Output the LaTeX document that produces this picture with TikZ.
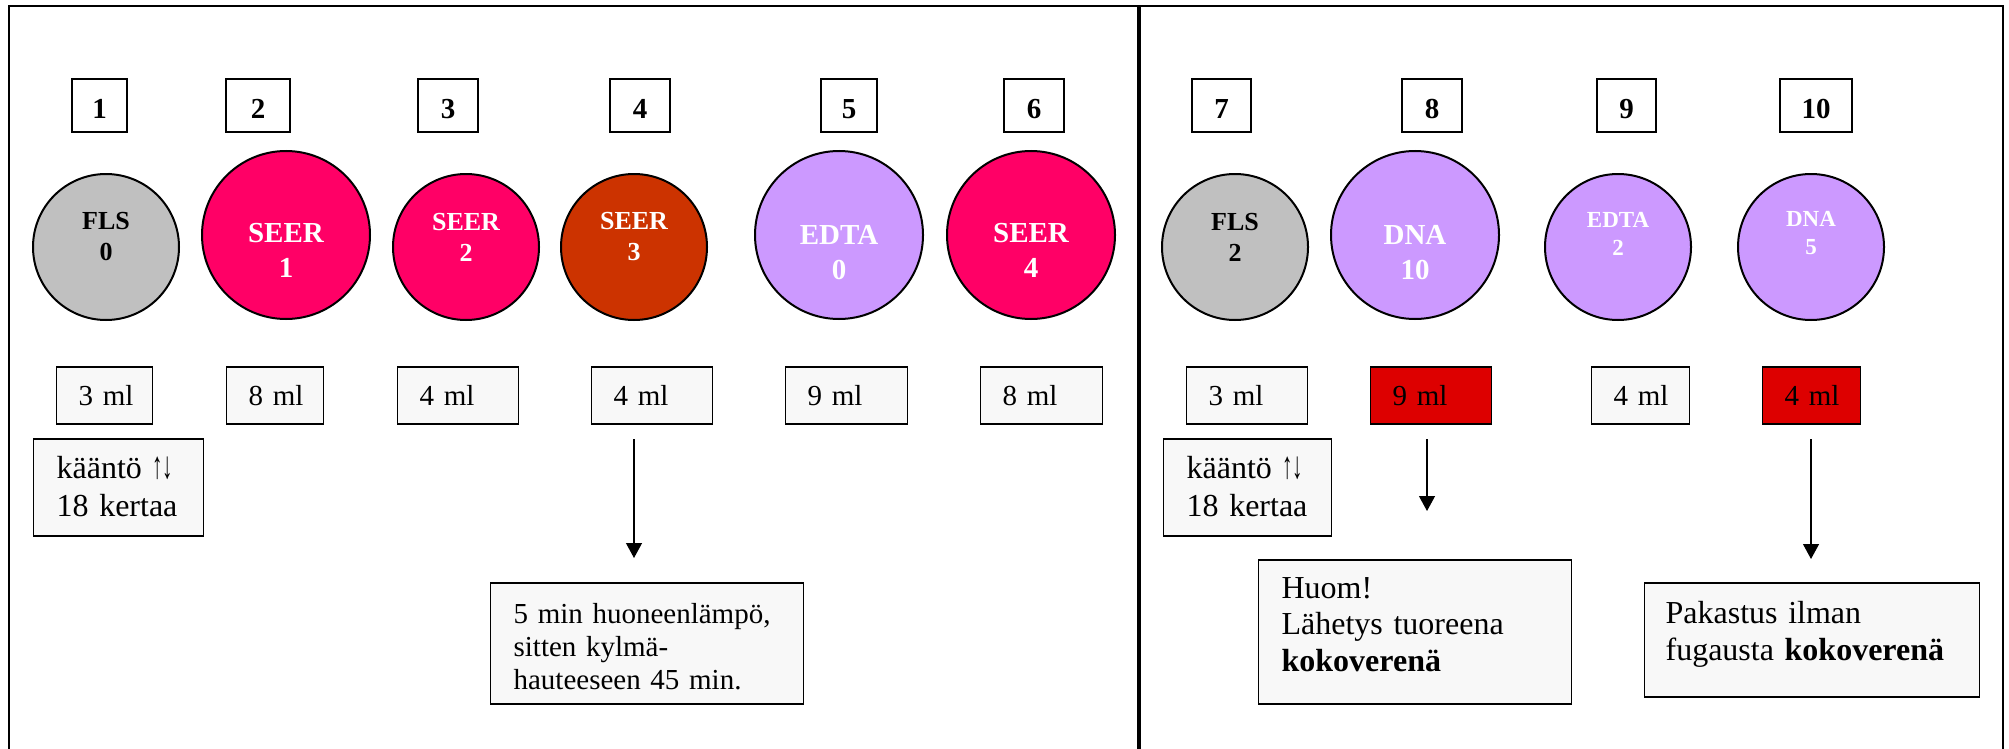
\documentclass[tikz,border=0pt]{standalone}
\usepackage{fontspec}
\setmainfont{Liberation Serif}
\usetikzlibrary{arrows.meta}

\definecolor{flsgrey}{HTML}{C0C0C0}
\definecolor{seerpink}{HTML}{FF0066}
\definecolor{seerrust}{HTML}{CC3300}
\definecolor{lilac}{HTML}{CC99FF}
\definecolor{volred}{HTML}{DD0000}
\definecolor{boxbg}{HTML}{F8F8F8}

\newcommand{\updown}{\scalebox{0.65}[1.2]{↑↓}}

\tikzset{
  numbox/.style={draw, line width=1.2pt, fill=white, inner sep=0pt,
    minimum height=53pt, text height=25pt, text depth=0pt,
    font=\bfseries\fontsize{29}{33}\selectfont},
  tube/.style={circle, draw, line width=2pt, inner sep=0pt},
  bigtube/.style={tube, minimum size=168pt},
  smalltube/.style={tube, minimum size=146pt},
  bigtxt/.style={align=center, font=\bfseries\fontsize{29}{35}\selectfont},
  smalltxt/.style={align=center, font=\bfseries\fontsize{26}{31}\selectfont},
  tinytxt/.style={align=center, font=\bfseries\fontsize{23}{28}\selectfont},
  vol/.style={anchor=west, draw, line width=1.2pt, fill=boxbg, inner xsep=22pt,
    inner ysep=0pt, minimum height=57pt, align=left, font=\fontsize{29}{33}\selectfont},
  notebox/.style={anchor=west, draw, line width=1.2pt, fill=boxbg, inner xsep=23pt,
    inner ysep=0pt, align=left},
  pil/.style={line width=1.2pt, -{Triangle[width=16pt,length=15pt]}}
}

\begin{document}
\begin{tikzpicture}[x=1pt, y=-1pt]
\useasboundingbox (0,0) rectangle (2009,749);

%% frame
\draw[line width=1.5pt] (9,749) -- (9,6) -- (2003,6) -- (2003,749);
\draw[line width=4pt] (1139,6) -- (1139,749);

%% tube numbers
\node[numbox, minimum width=55pt] (n1) at (99.5,105.5) {1};
\node[numbox, minimum width=64pt] (n2) at (258,105.5) {2};
\node[numbox, minimum width=60pt] (n3) at (448,105.5) {3};
\node[numbox, minimum width=60pt] (n4) at (640,105.5) {4};
\node[numbox, minimum width=56pt] (n5) at (849,105.5) {5};
\node[numbox, minimum width=60pt] (n6) at (1034,105.5) {6};
\node[numbox, minimum width=59pt] (n7) at (1221.5,105.5) {7};
\node[numbox, minimum width=60pt] (n8) at (1432,105.5) {8};
\node[numbox, minimum width=59pt] (n9) at (1626.5,105.5) {9};
\node[numbox, minimum width=72pt] (n10) at (1816,105.5) {10};

%% tubes
\node[smalltube, fill=flsgrey] (t1) at (106,247) {};
\node[bigtube, fill=seerpink] (t2) at (286,235) {};
\node[smalltube, fill=seerpink] (t3) at (466,247) {};
\node[smalltube, fill=seerrust] (t4) at (634,247) {};
\node[bigtube, fill=lilac] (t5) at (839,235) {};
\node[bigtube, fill=seerpink] (t6) at (1031,235) {};
\node[smalltube, fill=flsgrey] (t7) at (1235,247) {};
\node[bigtube, fill=lilac] (t8) at (1415,235) {};
\node[smalltube, fill=lilac] (t9) at (1618,247) {};
\node[smalltube, fill=lilac] (t10) at (1811,247) {};

%% tube labels
\node[smalltxt] (l1) at ([yshift=10pt]t1.center) {FLS\\0};
\node[bigtxt, text=white] (l2) at ([yshift=-15pt]t2.center) {SEER\\1};
\node[smalltxt, text=white] (l3) at ([yshift=10pt]t3.center) {SEER\\2};
\node[smalltxt, text=white] (l4) at ([yshift=10pt]t4.center) {SEER\\3};
\node[bigtxt, text=white] (l5) at ([yshift=-18pt]t5.center) {EDTA\\0};
\node[bigtxt, text=white] (l6) at ([yshift=-15pt]t6.center) {SEER\\4};
\node[smalltxt] (l7) at ([yshift=10pt]t7.center) {FLS\\2};
\node[bigtxt, text=white] (l8) at ([yshift=-18pt]t8.center) {DNA\\10};
\node[tinytxt, text=white] (l9) at ([yshift=13.5pt]t9.center) {EDTA\\2};
\node[tinytxt, text=white] (l10) at ([yshift=13.5pt]t10.center) {DNA\\5};

%% volumes
\node[vol, text width=52pt] (v1) at (56,395.5) {3~ml};
\node[vol, text width=53pt] (v2) at (226,395.5) {8~ml};
\node[vol, text width=77pt] (v3) at (397,395.5) {4~ml};
\node[vol, text width=77pt] (v4) at (591,395.5) {4~ml};
\node[vol, text width=78pt] (v5) at (785,395.5) {9~ml};
\node[vol, text width=78pt] (v6) at (980,395.5) {8~ml};
\node[vol, text width=77pt] (v7) at (1186,395.5) {3~ml};
\node[vol, text width=77pt, fill=volred] (v8) at (1370,395.5) {9~ml};
\node[vol, text width=54pt] (v9) at (1591,395.5) {4~ml};
\node[vol, text width=54pt, fill=volred] (v10) at (1762,395.5) {4~ml};

%% notes
\node[notebox, text width=124pt, minimum height=97pt, text height=22pt, text depth=41pt,
  font=\fontsize{32}{38}\selectfont] (k1) at (33,487.5) {kääntö~\updown\\18~kertaa};
\node[notebox, text width=122pt, minimum height=97pt, text height=22pt, text depth=41pt,
  font=\fontsize{32}{38}\selectfont] (k7) at (1163,487.5) {kääntö~\updown\\18~kertaa};
\node[notebox, text width=267pt, minimum height=121pt, text height=20pt, text depth=61pt,
  font=\fontsize{29}{33}\selectfont] (h4) at (490,643.5)
  {5 min huoneenlämpö,\\sitten kylmä-\\hauteeseen 45 min.};
\node[notebox, text width=267pt, minimum height=144pt, text height=22pt, text depth=90pt,
  font=\fontsize{32}{36.5}\selectfont] (h8) at (1258,632)
  {Huom!\\Lähetys tuoreena\\\textbf{kokoverenä}};
\node[notebox, inner xsep=21pt, text width=293pt, minimum height=114pt,
  text height=22pt, text depth=56pt,
  font=\fontsize{32}{37}\selectfont] (h10) at (1644,640)
  {Pakastus ilman\\fugausta \textbf{kokoverenä}};

%% arrows
\coordinate (a4) at (634,439);
\coordinate (b4) at (634,558);
\coordinate (a8) at (1427,439);
\coordinate (b8) at (1427,511);
\coordinate (a10) at (1811,439);
\coordinate (b10) at (1811,559);
\draw[pil] (a4) -- (b4);
\draw[pil] (a8) -- (b8);
\draw[pil] (a10) -- (b10);
\end{tikzpicture}
\end{document}
